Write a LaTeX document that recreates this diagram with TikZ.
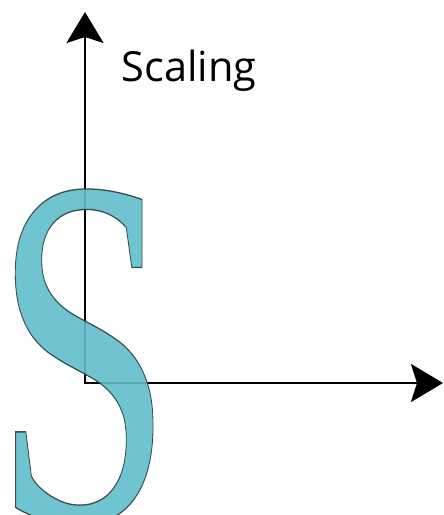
\documentclass[tikz,border=0pt]{standalone}
\usepackage{fontspec}
\usepackage{graphicx}
\setmainfont{Open Sans}
\newfontfamily\glyphfont{Liberation Serif}
\usetikzlibrary{arrows.meta}
\definecolor{scyan}{RGB}{96,190,202}
\newcommand\outlinedS{{\color{scyan}\special{pdf:literal direct 2 Tr 1.3 w 0.16 0.24 0.25 RG}S\special{pdf:literal direct 0 Tr}}}
\tikzset{
  axis/.style={line width=2.8pt, line join=miter, {Stealth[length=31pt,width=37pt,inset=6pt]}-{Stealth[length=32pt,width=38pt,inset=6pt]}},
  label/.style={anchor=base west, inner sep=0pt, font=\fontsize{41.5}{41.5}\selectfont},
  bigS/.style={anchor=base west, inner sep=0pt, opacity=0.9, font=\glyphfont\fontsize{500}{500}\selectfont}
}
\begin{document}
\begin{tikzpicture}[x=1pt,y=-1pt]
\useasboundingbox (0,0) rectangle (444,515);
\coordinate (ytip) at (85,12);
\coordinate (o) at (85,383);
\coordinate (xtip) at (443,383);
\draw[axis] (ytip) -- (o) -- (xtip);
\node[label] (lab) at (121.5,81) {Scaling};
\node[bigS] (S) at (-6.5,520) {\scalebox{0.645}[1]{\outlinedS}};
\end{tikzpicture}
\end{document}
